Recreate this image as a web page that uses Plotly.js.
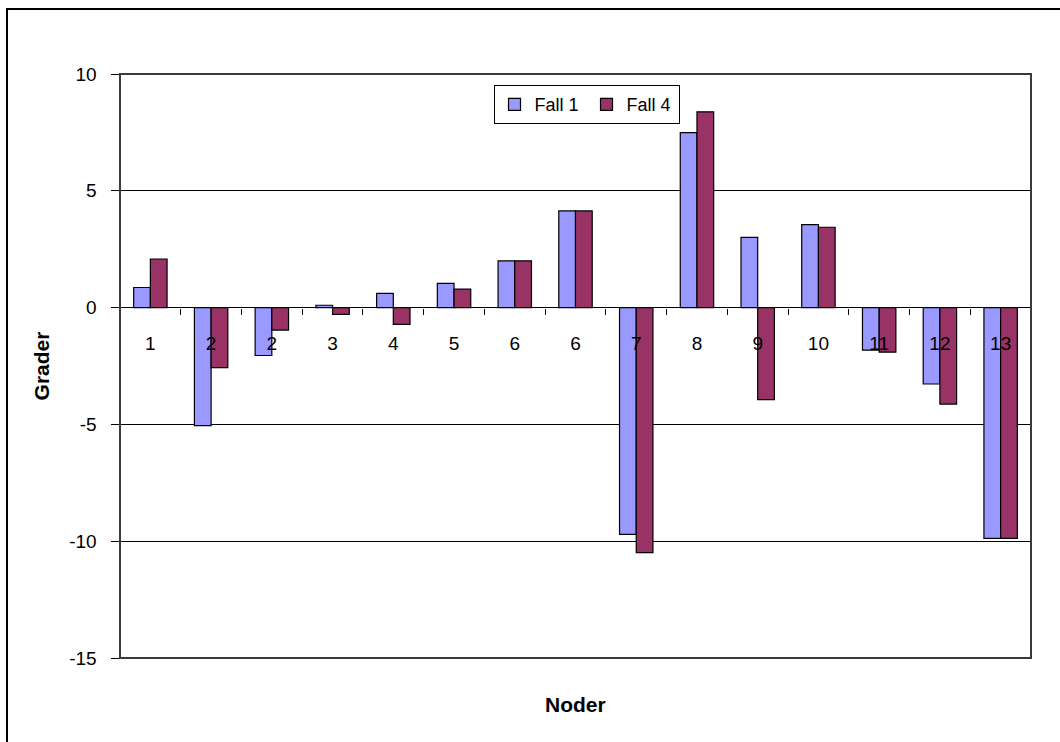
<!DOCTYPE html>
<html>
<head>
<meta charset="utf-8">
<script src="https://cdn.plot.ly/plotly-3.0.1.min.js"></script>
<style>
  html, body { margin: 0; padding: 0; background: #fff; }
  #wrap { position: relative; width: 1060px; height: 742px; overflow: hidden; }
  #chart { width: 1060px; height: 742px; }
  #frame {
    position: absolute; left: 6px; top: 8px; width: 1100px; height: 800px;
    border-left: 2px solid #000; border-top: 2px solid #000;
    pointer-events: none;
  }
</style>
</head>
<body>
<div id="wrap">
  <div id="chart"></div>
  <div id="frame"></div>
</div>
<script>
// Node labels along the x axis (some nodes appear twice)
const nodeLabels = ['1', '2', '2', '3', '4', '5', '6', '6', '7', '8', '9', '10', '11', '12', '13'];
// Angle per node, in degrees
const fall1 = [0.86, -5.05, -2.05, 0.10, 0.61, 1.04, 2.0, 4.14, -9.71, 7.49, 3.01, 3.55, -1.82, -3.27, -9.88];
const fall4 = [2.08, -2.57, -0.96, -0.29, -0.72, 0.79, 2.0, 4.14, -10.49, 8.38, -3.94, 3.44, -1.91, -4.13, -9.88];
const yTicks = [-15, -10, -5, 0, 5, 10];
const yTickText = yTicks.map(String);

const positions = nodeLabels.map((_, i) => i);
const boundaries = nodeLabels.slice(1).map((_, i) => i + 0.5);

const FONT = 'Arial, "Liberation Sans", sans-serif';
const xRange = [-0.5, nodeLabels.length - 0.5];
const yRange = [-15, 10];
const zeroPos = (0 - yRange[0]) / (yRange[1] - yRange[0]);

const traces = [
  {
    type: 'bar', name: 'Fall 1', x: positions, y: fall1,
    marker: { color: '#9999FF', line: { color: '#000', width: 1.2 } }
  },
  {
    type: 'bar', name: 'Fall 4', x: positions, y: fall4,
    marker: { color: '#993366', line: { color: '#000', width: 1.2 } }
  },
  // invisible trace carrying the category-boundary tick marks
  {
    type: 'scatter', x: [xRange[0]], y: [0], xaxis: 'x2', mode: 'markers',
    marker: { opacity: 0 }, showlegend: false, hoverinfo: 'skip'
  }
];

const layout = {
  width: 1060, height: 742,
  margin: { l: 120, r: 29, t: 74, b: 84 },
  paper_bgcolor: '#fff', plot_bgcolor: '#fff',
  font: { family: FONT, size: 19, color: '#000' },
  barmode: 'group', bargap: 0.45, bargroupgap: 0,
  showlegend: true,
  legend: {
    orientation: 'h', x: 0.41, y: 0.981, xanchor: 'left', yanchor: 'top',
    bordercolor: '#000', borderwidth: 1, bgcolor: '#fff',
    font: { family: FONT, size: 18, color: '#000' },
    itemwidth: 30, entrywidth: 47,
    traceorder: 'normal'
  },
  xaxis: {
    range: xRange, anchor: 'free', position: zeroPos,
    tickmode: 'array', tickvals: positions, ticktext: nodeLabels,
    ticks: '', showgrid: false, zeroline: false, showline: false,
    ticklabelstandoff: 22, layer: 'above traces',
    tickfont: { family: FONT, size: 19, color: '#000' },
    title: { text: '' }, fixedrange: true
  },
  xaxis2: {
    range: xRange, overlaying: 'x', anchor: 'free', position: zeroPos,
    tickmode: 'array', tickvals: boundaries, showticklabels: false,
    ticks: 'outside', ticklen: 6, tickwidth: 1, tickcolor: '#000',
    showgrid: false, zeroline: false, showline: false
  },
  yaxis: {
    range: yRange, tickmode: 'array', tickvals: yTicks, ticktext: yTickText,
    ticks: 'outside', ticklen: 8, tickwidth: 1, tickcolor: '#000',
    showline: true, linecolor: '#000', linewidth: 1.5,
    showgrid: true, gridcolor: '#000', gridwidth: 1,
    zeroline: true, zerolinecolor: '#000', zerolinewidth: 1,
    tickfont: { family: FONT, size: 19, color: '#000' },
    ticklabelstandoff: 10,
    title: { text: 'Grader', standoff: 14, font: { family: FONT, size: 21, color: '#000', weight: 'bold' } }
  },
  annotations: [
    {
      text: 'Noder', xref: 'paper', yref: 'paper', x: 0.5, y: -0.0788,
      xanchor: 'center', yanchor: 'middle', showarrow: false,
      font: { family: FONT, size: 21, color: '#000', weight: 'bold' }
    }
  ],
  shapes: [
    {
      type: 'rect', xref: 'paper', yref: 'paper', x0: 0, x1: 1, y0: 0, y1: 1,
      line: { color: '#3a3a3a', width: 2 }, layer: 'above'
    }
  ]
};

Plotly.newPlot('chart', traces, layout, { staticPlot: true, displayModeBar: false });
</script>
</body>
</html>
